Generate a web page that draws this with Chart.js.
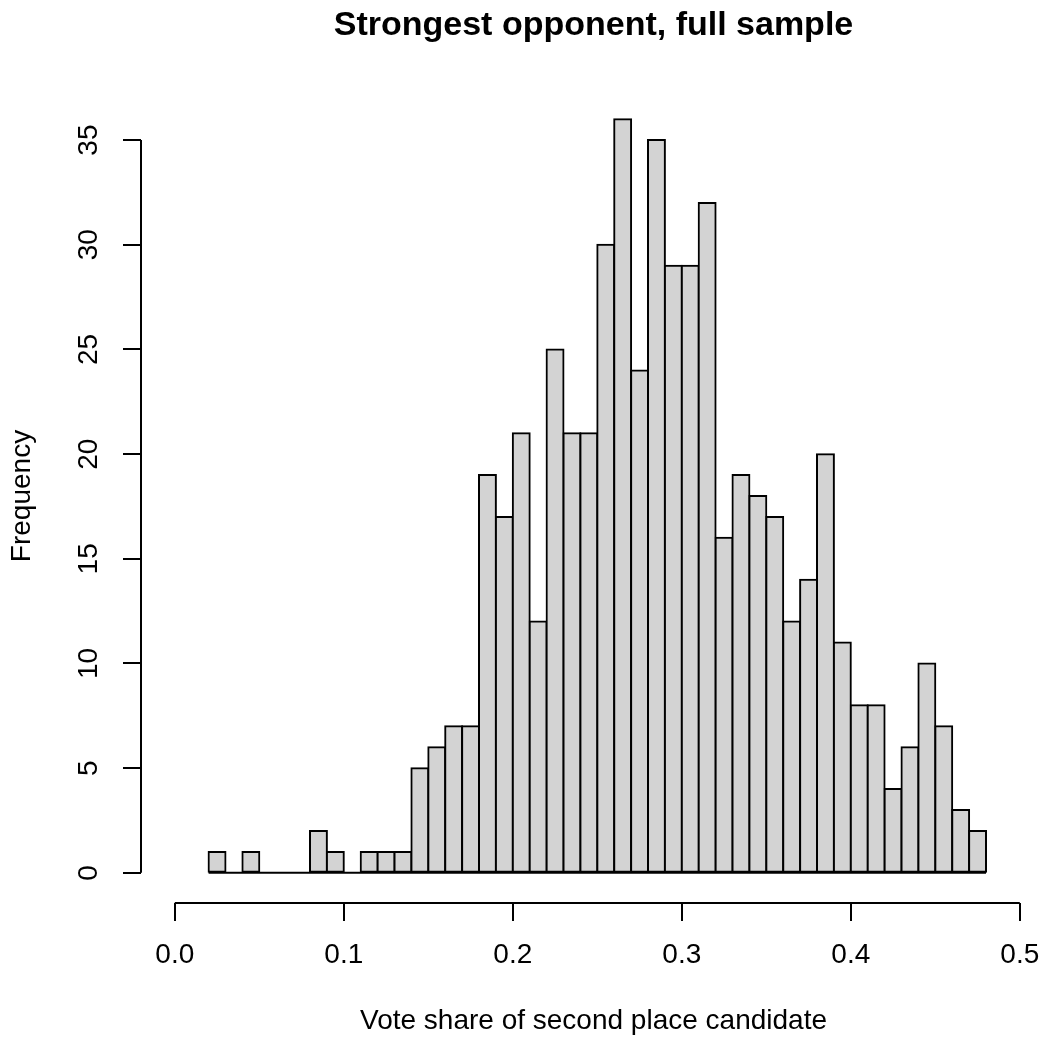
<!DOCTYPE html>
<html>
<head>
<meta charset="utf-8">
<script src="https://cdn.jsdelivr.net/npm/chart.js@4/dist/chart.umd.min.js"></script>
<style>
  html, body { margin: 0; padding: 0; background: #fff; }
  #wrap { width: 1046px; height: 1042px; }
</style>
</head>
<body>
<div id="wrap"><canvas id="histChart" width="1046" height="1042"></canvas></div>
<script>
// Bin edges (width 0.01) and counts
const binStarts = [0.02, 0.03, 0.04, 0.05, 0.06, 0.07, 0.08, 0.09, 0.10, 0.11,
                   0.12, 0.13, 0.14, 0.15, 0.16, 0.17, 0.18, 0.19, 0.20, 0.21,
                   0.22, 0.23, 0.24, 0.25, 0.26, 0.27, 0.28, 0.29, 0.30, 0.31,
                   0.32, 0.33, 0.34, 0.35, 0.36, 0.37, 0.38, 0.39, 0.40, 0.41,
                   0.42, 0.43, 0.44, 0.45, 0.46, 0.47];
const binWidth = 0.01;
const counts = [1, 0, 1, 0, 0, 0, 2, 1, 0, 1,
                1, 1, 5, 6, 7, 7, 19, 17, 21, 12,
                25, 21, 21, 30, 36, 24, 35, 29, 29, 32,
                16, 19, 18, 17, 12, 14, 20, 11, 8, 8,
                4, 6, 10, 7, 3, 2];

// Axis ticks
const xTickValues = [0, 0.1, 0.2, 0.3, 0.4, 0.5];
const xTickLabels = ['0.0', '0.1', '0.2', '0.3', '0.4', '0.5'];
const yTickValues = [0, 5, 10, 15, 20, 25, 30, 35];
const yTickLabels = ['0', '5', '10', '15', '20', '25', '30', '35'];

const titleText = 'Strongest opponent, full sample';
const xTitle = 'Vote share of second place candidate';
const yTitle = 'Frequency';

const barPoints = binStarts.map((b, i) => ({ x: b + binWidth / 2, y: counts[i] }));
const baseLine = [
  { x: binStarts[0], y: 0 },
  { x: binStarts[binStarts.length - 1] + binWidth, y: 0 }
];

const FONT = "'Liberation Sans', Arial, sans-serif";

// axis lines only over the tick range, like R's axis()
const axisLines = {
  id: 'axisLines',
  afterDraw(chart) {
    const { ctx, chartArea, scales: { x, y } } = chart;
    ctx.save();
    ctx.strokeStyle = '#000';
    ctx.lineWidth = 2;
    ctx.beginPath();
    ctx.moveTo(chartArea.left, y.getPixelForValue(yTickValues[0]));
    ctx.lineTo(chartArea.left, y.getPixelForValue(yTickValues[yTickValues.length - 1]));
    ctx.moveTo(x.getPixelForValue(xTickValues[0]), chartArea.bottom);
    ctx.lineTo(x.getPixelForValue(xTickValues[xTickValues.length - 1]), chartArea.bottom);
    ctx.stroke();
    ctx.restore();
  }
};

new Chart(document.getElementById('histChart'), {
  type: 'bar',
  data: {
    datasets: [{
      type: 'line',
      data: baseLine,
      borderColor: '#000',
      borderWidth: 2,
      pointRadius: 0,
      order: 0
    }, {
      data: barPoints,
      backgroundColor: '#D3D3D3',
      borderColor: '#000',
      borderWidth: 2,
      borderSkipped: false,
      inflateAmount: 1,
      barPercentage: 1,
      categoryPercentage: 1,
      order: 1
    }]
  },
  options: {
    responsive: false,
    animation: false,
    layout: { padding: 0 },
    plugins: {
      legend: { display: false },
      tooltip: { enabled: false },
      title: {
        display: true,
        text: titleText,
        fullSize: false,
        color: '#000',
        font: { family: FONT, size: 34, weight: 'bold', lineHeight: 1.2 },
        padding: { top: 5, bottom: 43.2 }
      }
    },
    scales: {
      x: {
        type: 'linear',
        min: -0.02,
        max: 0.5155,
        offset: false,
        afterBuildTicks: s => { s.ticks = xTickValues.map(v => ({ value: v })); },
        afterFit: s => { s.height = 139; s.paddingLeft = 0; s.paddingRight = 0; },
        border: { display: false },
        grid: { offset: false, drawOnChartArea: false, drawTicks: true, tickLength: 18, color: '#000', lineWidth: 2 },
        ticks: {
          autoSkip: false,
          maxRotation: 0,
          padding: 17,
          color: '#000',
          font: { family: FONT, size: 28 },
          callback: (v, i) => xTickLabels[i]
        },
        title: {
          display: true,
          text: xTitle,
          color: '#000',
          font: { family: FONT, size: 28, lineHeight: 1.2 },
          padding: { top: 0, bottom: 4 }
        }
      },
      y: {
        min: -1.44,
        max: 37.44,
        afterBuildTicks: s => { s.ticks = yTickValues.map(v => ({ value: v })); },
        afterFit: s => { s.width = 141; s.paddingTop = 0; s.paddingBottom = 0; },
        border: { display: false },
        grid: { drawOnChartArea: false, drawTicks: true, tickLength: 18, color: '#000', lineWidth: 2 },
        ticks: {
          autoSkip: false,
          minRotation: 90,
          maxRotation: 90,
          crossAlign: 'center',
          padding: 18,
          color: '#000',
          font: { family: FONT, size: 28 },
          callback: (v, i) => yTickLabels[i]
        },
        title: {
          display: true,
          text: yTitle,
          color: '#000',
          font: { family: FONT, size: 28, lineHeight: 1.2 },
          padding: { top: 5, bottom: 0 }
        }
      }
    }
  },
  plugins: [axisLines]
});
</script>
</body>
</html>
